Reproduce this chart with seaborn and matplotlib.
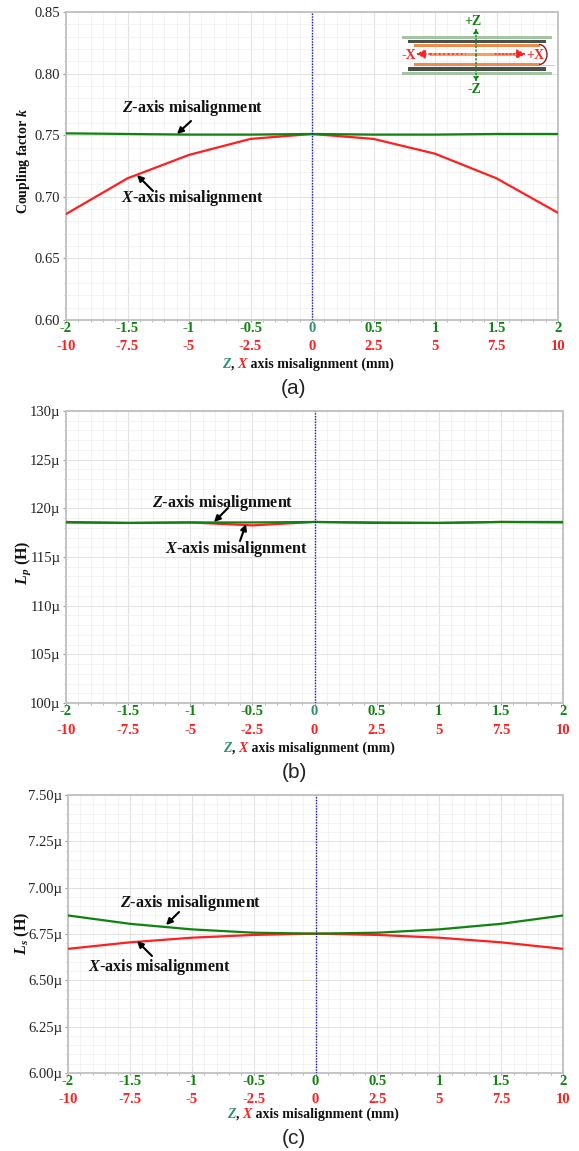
import numpy as np
import pandas as pd
import matplotlib
matplotlib.use("Agg")
import matplotlib.pyplot as plt
from matplotlib.patches import Rectangle, FancyArrowPatch, Arc
from matplotlib.offsetbox import HPacker, TextArea, AnnotationBbox
from matplotlib.ticker import MultipleLocator, FuncFormatter, FixedLocator
import seaborn as sns

# ---------- data ----------
z_mm = [-2, -1.5, -1, -0.5, 0, 0.5, 1, 1.5, 2]
k_z = [0.7515, 0.7510, 0.7505, 0.7505, 0.7510, 0.7505, 0.7505, 0.7510, 0.7510]
k_x = [0.686, 0.715, 0.734, 0.747, 0.751, 0.747, 0.735, 0.715, 0.687]
lp_z = [118.55, 118.50, 118.55, 118.55, 118.60, 118.50, 118.50, 118.60, 118.60]
lp_x = [118.60, 118.50, 118.55, 118.25, 118.60, 118.55, 118.50, 118.60, 118.55]
ls_z = [6.850, 6.805, 6.775, 6.757, 6.752, 6.757, 6.775, 6.805, 6.850]
ls_x = [6.670, 6.705, 6.730, 6.745, 6.752, 6.745, 6.730, 6.705, 6.670]
z_ticks = [-2, -1.5, -1, -0.5, 0, 0.5, 1, 1.5, 2]
z_tick_labels = ["-2", "-1.5", "-1", "-0.5", "0", "0.5", "1", "1.5", "2"]
x_tick_labels = ["-10", "-7.5", "-5", "-2.5", "0", "2.5", "5", "7.5", "10"]
SERIES = ["X-axis", "Z-axis"]

sns.set_theme(style="white")
plt.rcParams.update({
    "font.family": ["Liberation Serif", "DejaVu Serif"],
    "mathtext.fontset": "custom",
    "mathtext.rm": "Liberation Serif:bold",
    "mathtext.bf": "Liberation Serif:bold",
    "mathtext.it": "Liberation Serif:italic:bold",
    "mathtext.bfit": "Liberation Serif:italic:bold",
})

W, H = 579, 1151
fig = plt.figure(figsize=(W / 100, H / 100), dpi=100, facecolor="white")
GREEN, RED, TEAL = "#0f820f", "#ff1f1f", "#2f8f6f"
GRID_MAJ, GRID_MIN, SPINE = "#e2e2e2", "#f1f1f1", "#c4c4c4"


def make_axes(l, r, t, b):
    return fig.add_axes([l / W, 1 - b / H, (r - l) / W, (b - t) / H])


panels = [
    dict(box=(66, 558, 12, 320), z=k_z, x=k_x, ylim=(0.60, 0.85), maj=0.05, mn=0.01,
         fmt="{:.2f}", ylabel=r"Coupling factor $\mathbfit{k}$", ylab_y=161, ylab_x=24, ylab_fs=10,
         zero=TEAL, sec=-0.065, cap="(a)", cap_y=388, xl_y=364, xl_c=308),
    dict(box=(66, 563, 411, 703), z=lp_z, x=lp_x, ylim=(100, 130), maj=5, mn=1,
         fmt="{:.0f}\u00b5", ylabel=r"$\mathbfit{L_p}$ (H)", ylab_y=563, ylab_x=23, ylab_fs=11.5,
         zero=TEAL, sec=-0.072, cap="(b)", cap_y=772, xl_y=748, xl_c=309),
    dict(box=(68, 563, 795, 1073), z=ls_z, x=ls_x, ylim=(6.0, 7.5), maj=0.25, mn=0.05,
         fmt="{:.2f}\u00b5", ylabel=r"$\mathbfit{L_s}$ (H)", ylab_y=933, ylab_x=22, ylab_fs=11.5,
         zero=GREEN, sec=-0.072, cap="(c)", cap_y=1139, xl_y=1114, xl_c=313),
]

for p in panels:
    ax = make_axes(*p["box"])
    df = pd.DataFrame({
        "z": z_mm * 2,
        "value": list(p["x"]) + list(p["z"]),
        "series": [SERIES[0]] * 9 + [SERIES[1]] * 9,
    })
    sns.lineplot(data=df, x="z", y="value", hue="series", hue_order=SERIES,
                 palette={SERIES[0]: RED, SERIES[1]: GREEN}, linewidth=1.6,
                 legend=False, ax=ax, zorder=3)
    ax.axvline(0, color="#1414e0", lw=1.0, ls=(0, (1, 1)), zorder=4)
    ax.set_xlim(-2, 2)
    ax.set_ylim(*p["ylim"])
    ax.xaxis.set_major_locator(FixedLocator(z_ticks))
    ax.xaxis.set_minor_locator(MultipleLocator(0.1))
    ax.yaxis.set_major_locator(MultipleLocator(p["maj"]))
    ax.yaxis.set_minor_locator(MultipleLocator(p["mn"]))
    ax.yaxis.set_major_formatter(FuncFormatter(lambda v, _, f=p["fmt"]: f.format(v)))
    ax.set_xticklabels(z_tick_labels, fontsize=10.5, fontweight="bold", color=GREEN)
    ax.get_xticklabels()[4].set_color(p["zero"])
    ax.grid(True, which="major", color=GRID_MAJ, lw=0.8)
    ax.grid(True, which="minor", color=GRID_MIN, lw=0.6)
    ax.set_axisbelow(True)
    ax.tick_params(axis="y", which="major", length=2, width=0.8, color="#999999",
                   labelsize=10.5, pad=2, labelcolor="#222222", left=True)
    ax.tick_params(axis="y", which="minor", length=1.5, width=0.6, color="#aaaaaa", left=True)
    ax.tick_params(axis="x", which="major", length=1.5, width=0.8, color="#999999", pad=0, bottom=True)
    ax.tick_params(axis="x", which="minor", length=1.5, width=0.6, color="#aaaaaa", bottom=True)
    for s in ax.spines.values():
        s.set_color(SPINE)
        s.set_linewidth(1.4)
    ax.set_xlabel("")
    ax.set_ylabel("")
    sec = ax.secondary_xaxis(p["sec"], functions=(lambda v: v * 5, lambda v: v / 5))
    sec.set_xticks([v * 5 for v in z_ticks])
    sec.set_xticklabels(x_tick_labels, fontsize=10.5, fontweight="bold", color=RED)
    sec.tick_params(axis="x", length=0, pad=0)
    sec.spines["bottom"].set_visible(False)
    fig.text(p["ylab_x"] / W, 1 - p["ylab_y"] / H, p["ylabel"], rotation=90, fontsize=p["ylab_fs"],
             fontweight="bold", color="#111111", ha="center", va="center")
    fig.text(294 / W, 1 - p["cap_y"] / H, p["cap"], fontsize=15, family="Liberation Sans",
             ha="center", va="center", color="#222222")
    box = HPacker(children=[
        TextArea("Z", textprops=dict(color=TEAL, style="italic", weight="bold", size=10)),
        TextArea(",\u00a0", textprops=dict(color="#111111", weight="bold", size=10)),
        TextArea("X", textprops=dict(color=RED, style="italic", weight="bold", size=10)),
        TextArea("\u00a0axis misalignment (mm)", textprops=dict(color="#111111", weight="bold", size=10)),
    ], align="baseline", pad=0, sep=0)
    fig.add_artist(AnnotationBbox(box, (p["xl_c"] / W, 1 - p["xl_y"] / H), xycoords="figure fraction",
                                  frameon=False, box_alignment=(0.5, 0.5), pad=0))

# ---------- overlay in reference pixel coordinates (labels, arrows, inset sketch) ----------
ov = fig.add_axes([0, 0, 1, 1], facecolor="none")
ov.set_xlim(0, W)
ov.set_ylim(H, 0)
ov.axis("off")
Z_TXT = r"$\mathbfit{Z}$-axis misalignment"
X_TXT = r"$\mathbfit{X}$-axis misalignment"
notes = [
    (Z_TXT, 193, 108, (191, 121), (177, 134)),
    (X_TXT, 192, 198, (153, 191), (137, 175)),
    (Z_TXT, 223, 503, (228, 508), (214, 522)),
    (X_TXT, 236, 549, (240, 541), (246, 524)),
    (Z_TXT, 191, 903, (179, 912), (166, 925)),
    (X_TXT, 159, 967, (152, 956), (137, 941)),
]
for txt, tx, ty, tail, tip in notes:
    ov.text(tx, ty, txt, fontsize=11.6, fontweight="bold", color="#111111", ha="center", va="center")
    ov.add_patch(FancyArrowPatch(tail, tip, arrowstyle="-|>", mutation_scale=9, lw=1.5,
                                 color="black", shrinkA=0, shrinkB=0, zorder=6))

# inset sketch of coil misalignment
for y0, h, x0, x1, c in [
    (35.5, 3, 402, 552, "#a3c4a3"), (71.5, 3, 402, 552, "#a3c4a3"),
    (39.5, 3.5, 408, 546, "#4a4f4a"), (67, 3.5, 408, 546, "#4a4f4a"),
    (44, 3, 414, 540, "#f08a4a"), (62.5, 3, 414, 540, "#f08a4a"),
    (52.5, 3, 430, 523, "#f5a060"),
]:
    ov.add_patch(Rectangle((x0, y0), x1 - x0, h, color=c, lw=0, zorder=5))
ov.add_patch(Arc((539, 54.5), 16, 20, theta1=-90, theta2=90, color="#8b1a1a", lw=1, zorder=6))
ov.plot([540, 554], [65, 65], color="#f5c0a0", lw=0.7, zorder=5)
for a, b, c in [((476, 55), (476, 28), GREEN), ((476, 55), (476, 82), GREEN),
                ((430, 54), (416, 54), RED), ((495, 54), (526, 54), RED)]:
    ov.add_patch(FancyArrowPatch(a, b, arrowstyle="-|>", mutation_scale=14 if c == RED else 7,
                                 lw=1.0, ls=":", color=c, shrinkA=0, shrinkB=0, zorder=7))
ov.plot([430, 466], [54, 54], color=RED, lw=1.2, ls=":", zorder=7)
for s, x, y, c in [("+Z", 473, 21, GREEN), ("-Z", 474, 89, GREEN), ("-X", 409, 55, RED), ("+X", 535, 55, RED)]:
    ov.text(x, y, s, fontsize=10, fontweight="bold", color=c, ha="center", va="center", zorder=8)

fig.savefig("out.png", dpi=100)
